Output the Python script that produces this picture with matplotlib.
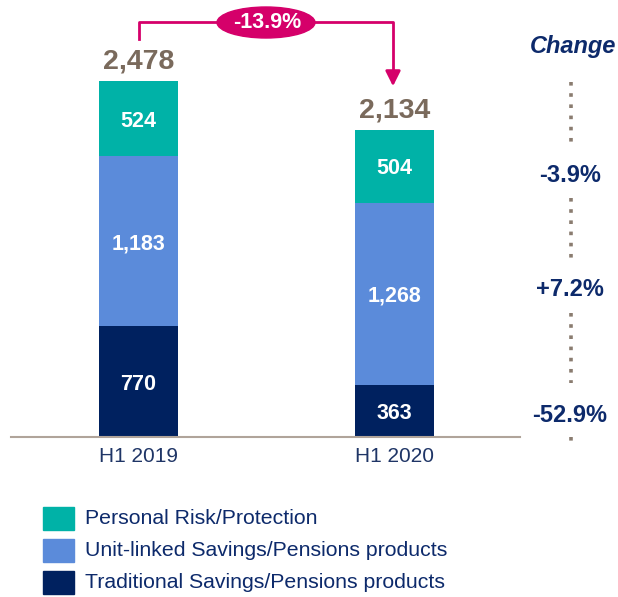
import matplotlib.pyplot as plt
from matplotlib.patches import Ellipse

plt.rcParams['font.family'] = ['Liberation Sans', 'DejaVu Sans']

periods = ['H1 2019', 'H1 2020']
traditional = [770, 363]
unit_linked = [1183, 1268]
protection = [524, 504]
totals = [2478, 2134]
changes = ['-3.9%', '+7.2%', '-52.9%']
total_change = '-13.9%'
series_names = ['Personal Risk/Protection', 'Unit-linked Savings/Pensions products',
                'Traditional Savings/Pensions products']

c_prot = '#00B2A7'
c_unit = '#5B8BDA'
c_trad = '#00215F'
c_text = '#0D2A6B'
c_total = '#7A6A5C'
c_pink = '#D5006A'

W, H = 618, 597
fig = plt.figure(figsize=(W / 100, H / 100), dpi=100)

# axes in pixel terms: x 11..520, y 0..437
ax = fig.add_axes([11 / W, (H - 437) / H, 509 / W, 437 / H])
px = 256.0
ax.set_xlim(-127.5 / px, (520 - 138.5) / px)
ax.set_ylim(0, 437 / 0.1437)

x = [0, 1]
w = 79 / px
ax.bar(x, traditional, w, color=c_trad)
ax.bar(x, unit_linked, w, bottom=traditional, color=c_unit)
bot2 = [a + b for a, b in zip(traditional, unit_linked)]
ax.bar(x, protection, w, bottom=bot2, color=c_prot)

for i in x:
    ax.text(i, traditional[i] / 2, f'{traditional[i]:,}', ha='center', va='center_baseline',
            color='white', fontsize=15.5, fontweight='bold')
    ax.text(i, traditional[i] + unit_linked[i] / 2, f'{unit_linked[i]:,}', ha='center',
            va='center_baseline', color='white', fontsize=15.5, fontweight='bold')
    ax.text(i, bot2[i] + protection[i] / 2, f'{protection[i]:,}', ha='center',
            va='center_baseline', color='white', fontsize=15.5, fontweight='bold')
    ax.text(i, totals[i] + 45, f'{totals[i]:,}', ha='center', va='bottom',
            color=c_total, fontsize=20.5, fontweight='bold')

for s in ['top', 'right', 'left']:
    ax.spines[s].set_visible(False)
ax.spines['bottom'].set_color('#B0A49A')
ax.spines['bottom'].set_linewidth(1.5)
ax.set_yticks([])
ax.set_xticks(x)
ax.set_xticklabels(periods, fontsize=15, color='#1F3566')
ax.tick_params(axis='x', length=0, pad=7)

# pink bracket arrow (figure pixel coords)
def fp(xp, yp):
    return (xp / W, 1 - yp / H)

fig.add_artist(plt.Line2D([fp(139, 0)[0], fp(139, 0)[0], fp(393, 0)[0], fp(393, 0)[0]],
                          [fp(0, 39)[1], fp(0, 22)[1], fp(0, 22)[1], fp(0, 78)[1]],
                          color=c_pink, lw=2, transform=fig.transFigure))
ax.annotate('', xy=fp(393, 89), xytext=fp(393, 73), xycoords='figure fraction',
            textcoords='figure fraction',
            arrowprops=dict(arrowstyle='-|>,head_width=0.45,head_length=0.9',
                            color=c_pink, lw=2))
fig.add_artist(Ellipse(fp(266, 22.5), 98 / W, 31 / H, color=c_pink,
                       transform=fig.transFigure))
fig.text(*fp(267, 22), total_change, ha='center', va='center', color='white',
         fontsize=15.5, fontweight='bold')

# change column
fig.text(*fp(573, 53), 'Change', ha='center', va='baseline', color=c_text,
         fontsize=17, fontweight='bold', style='italic')
for (y0, y1) in [(82, 143), (198, 259), (313, 383), (437, 443)]:
    fig.add_artist(plt.Line2D([fp(571, 0)[0]] * 2, [fp(0, y0)[1], fp(0, y1)[1]],
                              color='#8A7C70', lw=2.6, ls=(0, (1, 2.1)),
                              transform=fig.transFigure))
for lab, yp in zip(changes, [175, 290, 415]):
    fig.text(*fp(570, yp), lab, ha='center', va='center', color=c_text,
             fontsize=17, fontweight='bold')

# legend
for name, col, yp in zip(series_names, [c_prot, c_unit, c_trad], [519, 551, 583]):
    fig.add_artist(plt.Rectangle(fp(43, yp + 11), 31 / W, 23 / H, color=col,
                                 transform=fig.transFigure))
    fig.text(*fp(85, yp), name, ha='left', va='center', color=c_text, fontsize=15.3)

fig.savefig('out.png', dpi=100)
